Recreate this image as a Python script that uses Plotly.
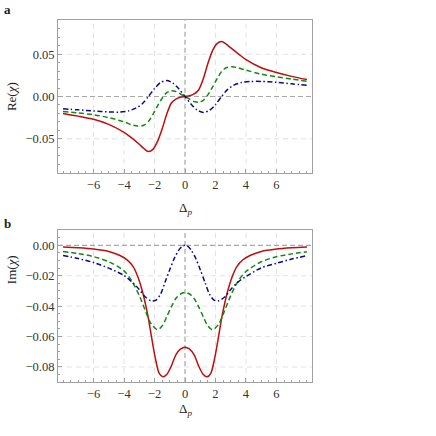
import plotly.graph_objects as go

# ---- data ----
re_red_x = [-8, -7, -6, -5, -4, -3.5, -3, -2.7, -2.4, -2.1, -1.8, -1.5, -1.2, -0.9, -0.6, -0.3, 0,
            0.3, 0.6, 0.9, 1.2, 1.5, 1.8, 2.1, 2.4, 2.7, 3, 3.5, 4, 5, 6, 7, 8]
re_red_y = [-0.0200, -0.0232, -0.0270, -0.0330, -0.0425, -0.0490, -0.0565, -0.0615, -0.0650, -0.0625,
            -0.0530, -0.0385, -0.0210, -0.0080, -0.0030, -0.0008, 0.0,
            0.0008, 0.0030, 0.0080, 0.0210, 0.0390, 0.0540, 0.0625, 0.0650, 0.0620, 0.0575,
            0.0505, 0.0435, 0.0340, 0.0285, 0.0238, 0.0200]

re_green_x = [-8, -7, -6, -5, -4, -3.5, -3.1, -2.7, -2.4, -2.1, -1.8, -1.5, -1.2, -0.9, -0.6, -0.3, 0,
              0.3, 0.6, 0.9, 1.2, 1.5, 1.8, 2.1, 2.4, 2.7, 3.1, 3.5, 4, 5, 6, 7, 8]
re_green_y = [-0.0177, -0.0195, -0.0216, -0.0250, -0.0300, -0.0335, -0.0350, -0.0340, -0.0295, -0.0210,
              -0.0110, -0.0020, 0.0045, 0.0068, 0.0060, 0.0030, 0.0,
              -0.0030, -0.0060, -0.0068, -0.0045, 0.0020, 0.0110, 0.0210, 0.0295, 0.0340, 0.0352,
              0.0338, 0.0312, 0.0264, 0.0234, 0.0206, 0.0180]

re_blue_x = [-8, -7, -6, -5, -4.3, -3.7, -3.2, -2.8, -2.4, -2.0, -1.6, -1.2, -0.8, -0.4, 0,
             0.4, 0.8, 1.2, 1.6, 2.0, 2.4, 2.8, 3.2, 3.7, 4.3, 5, 6, 7, 8]
re_blue_y = [-0.0145, -0.0158, -0.0170, -0.0182, -0.0185, -0.0170, -0.0135, -0.0085, 0.0000, 0.0095,
             0.0165, 0.0188, 0.0160, 0.0090, 0.0,
             -0.0090, -0.0160, -0.0188, -0.0165, -0.0095, 0.0000, 0.0085, 0.0135, 0.0165, 0.0178,
             0.0178, 0.0168, 0.0150, 0.0132]

im_red_x = [-8, -7, -6, -5, -4.3, -3.8, -3.4, -3.1, -2.8, -2.45, -2.2, -1.95, -1.7, -1.45, -1.2, -0.9, -0.6, -0.3, 0,
            0.3, 0.6, 0.9, 1.2, 1.45, 1.7, 1.95, 2.2, 2.45, 2.8, 3.1, 3.4, 3.8, 4.3, 5, 6, 7, 8]
im_red_y = [-0.0011, -0.0016, -0.0024, -0.0040, -0.0065, -0.0095, -0.0140, -0.0205, -0.0300, -0.0455,
            -0.0600, -0.0740, -0.0840, -0.0865, -0.0850, -0.0795, -0.0720, -0.0683, -0.0670,
            -0.0683, -0.0720, -0.0795, -0.0850, -0.0865, -0.0840, -0.0740, -0.0600, -0.0455,
            -0.0300, -0.0205, -0.0140, -0.0095, -0.0065, -0.0040, -0.0024, -0.0016, -0.0011]

im_green_x = [-8, -7, -6, -5, -4, -3.5, -3, -2.6, -2.2, -1.8, -1.5, -1.2, -0.9, -0.6, -0.3, 0,
              0.3, 0.6, 0.9, 1.2, 1.5, 1.8, 2.2, 2.6, 3, 3.5, 4, 5, 6, 7, 8]
im_green_y = [-0.0040, -0.0054, -0.0074, -0.0108, -0.0168, -0.0232, -0.0330, -0.0430, -0.0520, -0.0555,
              -0.0530, -0.0470, -0.0405, -0.0350, -0.0320, -0.0310,
              -0.0320, -0.0350, -0.0405, -0.0470, -0.0530, -0.0555, -0.0520, -0.0430, -0.0330,
              -0.0232, -0.0172, -0.0108, -0.0075, -0.0056, -0.0042]

im_blue_x = [-8, -7, -6, -5, -4, -3.5, -3, -2.6, -2.2, -1.9, -1.6, -1.3, -1, -0.7, -0.4, -0.15, 0,
             0.15, 0.4, 0.7, 1, 1.3, 1.6, 1.9, 2.2, 2.6, 3, 3.5, 4, 5, 6, 7, 8]
im_blue_y = [-0.0066, -0.0087, -0.0113, -0.0150, -0.0198, -0.0240, -0.0290, -0.0340, -0.0365, -0.0360,
             -0.0320, -0.0240, -0.0160, -0.0085, -0.0030, -0.0004, 0.0,
             -0.0004, -0.0030, -0.0085, -0.0160, -0.0240, -0.0320, -0.0360, -0.0365, -0.0340,
             -0.0290, -0.0240, -0.0205, -0.0148, -0.0118, -0.0090, -0.0068]

x_ticks = [-6, -4, -2, 0, 2, 4, 6]
re_ticks = [-0.05, 0.0, 0.05]
im_ticks = [0.0, -0.02, -0.04, -0.06, -0.08]

RED = "#BE0F0F"
GREEN = "#128A12"
BLUE = "#0A0A8C"
FRAME = "#A0A0A0"
GRID = "#E2E2E2"
ZERO = "#A8A8A8"
FONT = "Liberation Serif"

fig = go.Figure()

def add_lines(x_r, y_r, x_g, y_g, x_b, y_b, xa, ya):
    fig.add_trace(go.Scatter(x=x_r, y=y_r, mode="lines", xaxis=xa, yaxis=ya,
                             line=dict(color=RED, width=1.5, shape="spline", smoothing=0.8)))
    fig.add_trace(go.Scatter(x=x_g, y=y_g, mode="lines", xaxis=xa, yaxis=ya,
                             line=dict(color=GREEN, width=1.5, dash="5px,3px", shape="spline", smoothing=0.8)))
    fig.add_trace(go.Scatter(x=x_b, y=y_b, mode="lines", xaxis=xa, yaxis=ya,
                             line=dict(color=BLUE, width=1.5, dash="5px,2.5px,1.5px,2.5px",
                                       shape="spline", smoothing=0.8)))

add_lines(re_red_x, re_red_y, re_green_x, re_green_y, re_blue_x, re_blue_y, "x", "y")
add_lines(im_red_x, im_red_y, im_green_x, im_green_y, im_blue_x, im_blue_y, "x2", "y2")

xcommon = dict(range=[-8.33, 8.33], tickvals=x_ticks, ticks="inside", ticklen=4, tickcolor=FRAME,
               showline=True, linecolor=FRAME, linewidth=1, mirror=True,
               showgrid=False, zeroline=False,
               tickfont=dict(family=FONT, size=12.5, color="#333"),
               minor=dict(ticks="inside", ticklen=2, dtick=0.5, tickcolor=FRAME, showgrid=False))
ycommon = dict(ticks="inside", ticklen=4, tickcolor=FRAME, tickformat=".2f",
               showline=True, linecolor=FRAME, linewidth=1, mirror=True,
               showgrid=False, zeroline=False,
               tickfont=dict(family=FONT, size=12.5, color="#333"))

fig.update_layout(
    width=436, height=436,
    margin=dict(l=58, r=124, t=20, b=54),
    paper_bgcolor="white", plot_bgcolor="white",
    showlegend=False,
    xaxis=dict(domain=[0, 1], anchor="y", **xcommon),
    yaxis=dict(domain=[0.578, 1], anchor="x", range=[-0.0902, 0.0905], tickvals=re_ticks,
               minor=dict(ticks="inside", ticklen=2, dtick=0.01, tickcolor=FRAME, showgrid=False),
               **ycommon),
    xaxis2=dict(domain=[0, 1], anchor="y2", **xcommon),
    yaxis2=dict(domain=[0, 0.4207], anchor="x2", range=[-0.0899, 0.0103], tickvals=im_ticks,
                minor=dict(ticks="inside", ticklen=2, dtick=0.005, tickcolor=FRAME, showgrid=False),
                **ycommon),
)

# light dashed grid lines (non-zero ticks) and darker dashed zero lines
panels = (("x", "y", re_ticks), ("x2", "y2", im_ticks))
for xa, ya, yt in panels:
    for xv in x_ticks:
        if xv != 0:
            fig.add_shape(type="line", xref=xa, yref=ya + " domain", x0=xv, x1=xv, y0=0, y1=1,
                          line=dict(color=GRID, width=1, dash="5px,4px"), layer="below")
    for yv in yt:
        if yv != 0:
            fig.add_shape(type="line", xref=xa + " domain", yref=ya, x0=0, x1=1, y0=yv, y1=yv,
                          line=dict(color=GRID, width=1, dash="5px,4px"), layer="below")
    fig.add_shape(type="line", xref=xa, yref=ya + " domain", x0=0, x1=0, y0=0, y1=1,
                  line=dict(color=ZERO, width=1.2, dash="5px,3px"), layer="below")
    fig.add_shape(type="line", xref=xa + " domain", yref=ya, x0=0, x1=1, y0=0, y1=0,
                  line=dict(color=ZERO, width=1.2, dash="5px,3px"), layer="below")

ann_font = dict(family=FONT, size=13, color="#222")
annotations = [
    dict(text="<b>a</b>", x=-0.197, y=1.028),
    dict(text="<b>b</b>", x=-0.199, y=0.439),
    dict(text="Re(<i>χ</i>)", x=-0.185, y=0.787, textangle=-90),
    dict(text="Im(<i>χ</i>)", x=-0.185, y=0.309, textangle=-90),
    dict(text="Δ<sub><i>p</i></sub>", x=0.5, y=0.478),
    dict(text="Δ<sub><i>p</i></sub>", x=0.5, y=-0.077),
]
for a in annotations:
    fig.add_annotation(xref="paper", yref="paper", showarrow=False, xanchor="center", yanchor="middle",
                       font=ann_font, **a)

# remove the browser's default 8px page margin so the figure fills the window exactly
fig.write_html("out.html", config={"displayModeBar": False},
               post_script="document.body.style.margin='0px';")
